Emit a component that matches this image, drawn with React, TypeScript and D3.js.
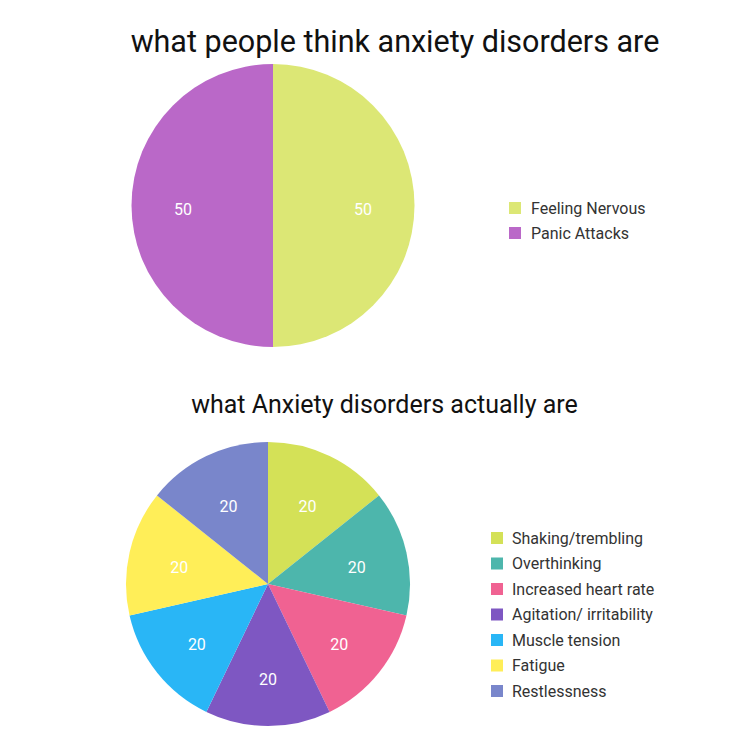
import React from "react";
import * as d3 from "d3";

const topCategories = ["Feeling Nervous", "Panic Attacks"];
const topValues = [50, 50];
const topColors = ["#DCE775", "#BA68C8"];

const bottomCategories = [
  "Shaking/trembling",
  "Overthinking",
  "Increased heart rate",
  "Agitation/ irritability",
  "Muscle tension",
  "Fatigue",
  "Restlessness",
];
const bottomValues = [20, 20, 20, 20, 20, 20, 20];
const bottomColors = ["#D4E157", "#4DB6AC", "#F06292", "#7E57C2", "#29B6F6", "#FFEE58", "#7986CB"];

const topTitle = "what people think anxiety disorders are";
const bottomTitle = "what Anxiety disorders actually are";

const FONT = "Roboto, 'Noto Sans', sans-serif";

function Pie({ cx, cy, r, labelR, labelDy, values, colors }: { cx: number; cy: number; r: number; labelR: number; labelDy: number; values: number[]; colors: string[] }) {
  const pie = d3.pie<number>().sort(null).value((d) => d);
  const arcs = pie(values);
  const arc = d3.arc<d3.PieArcDatum<number>>().innerRadius(0).outerRadius(r);
  const labelArc = d3.arc<d3.PieArcDatum<number>>().innerRadius(labelR).outerRadius(labelR);
  return (
    <g transform={`translate(${cx},${cy})`}>
      {arcs.map((a, i) => (
        <path key={i} d={arc(a) || ""} fill={colors[i]} stroke="none" />
      ))}
      {arcs.map((a, i) => {
        const [x, y] = labelArc.centroid(a);
        return (
          <text key={"t" + i} x={x} y={y + labelDy} dy="0.35em" textAnchor="middle" fill="#ffffff" fontSize={16} fontFamily={FONT}>
            {a.data}
          </text>
        );
      })}
    </g>
  );
}

function Legend({ x, y, step, names, colors, textX }: { x: number; y: number; step: number; names: string[]; colors: string[]; textX: number }) {
  return (
    <g>
      {names.map((n, i) => (
        <g key={n}>
          <rect x={x} y={y + i * step - 6} width={12} height={12} fill={colors[i]} />
          <text x={textX} y={y + i * step} dy="0.35em" fontSize={16} fill="#333333" fontFamily={FONT}>
            {n}
          </text>
        </g>
      ))}
    </g>
  );
}

export default function App() {
  return (
    <svg width={736} height={736} style={{ position: "absolute", left: 0, top: 0, background: "#ffffff" }}>
      <rect width={736} height={736} fill="#ffffff" />
      <text x={395} y={52} textAnchor="middle" fontSize={30.5} fill="#111111" fontFamily={FONT}>
        {topTitle}
      </text>
      <Pie cx={273} cy={205.5} r={141.5} labelR={90} labelDy={4} values={topValues} colors={topColors} />
      <Legend x={509} y={208} step={25} names={topCategories} colors={topColors} textX={531} />

      <text x={384.5} y={413} textAnchor="middle" fontSize={25} fill="#111111" fontFamily={FONT}>
        {bottomTitle}
      </text>
      <Pie cx={268} cy={584} r={142} labelR={91} labelDy={4} values={bottomValues} colors={bottomColors} />
      <Legend x={491} y={538} step={25.5} names={bottomCategories} colors={bottomColors} textX={512} />
    </svg>
  );
}
